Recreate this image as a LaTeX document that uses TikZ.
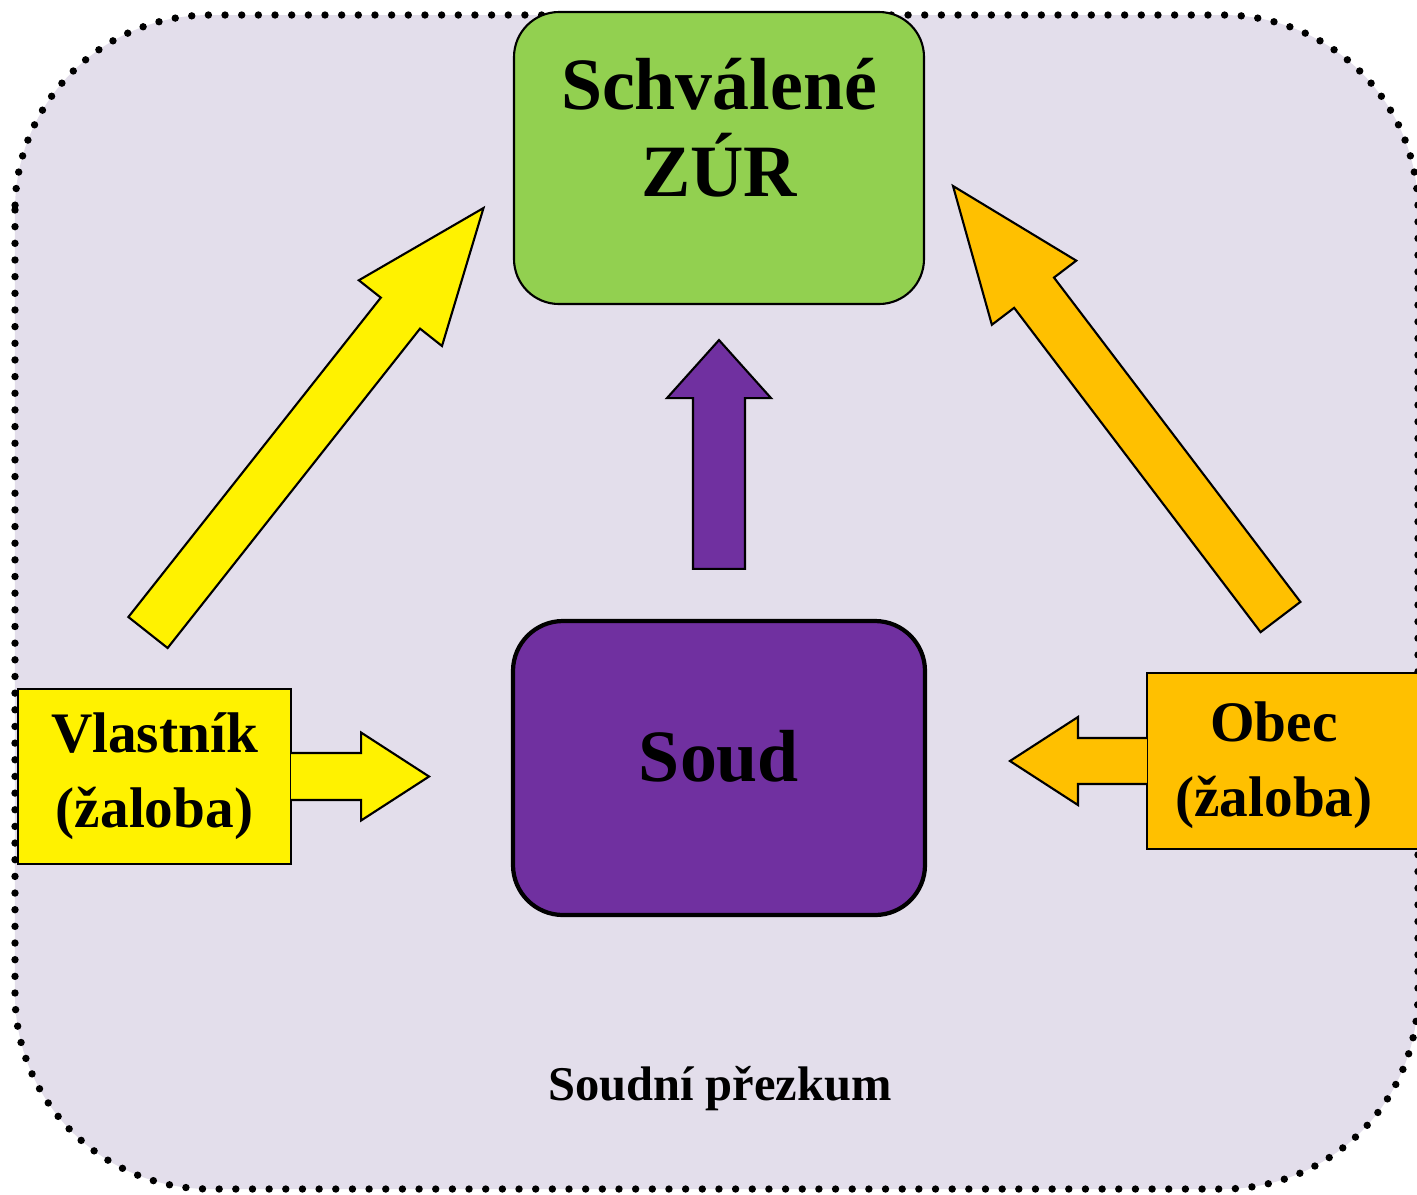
\documentclass[tikz,border=0pt]{standalone}
\usepackage{fontspec}
\setmainfont{Liberation Serif}
\usetikzlibrary{calc}

\definecolor{bglavender}{HTML}{E3DEEB}
\definecolor{zurgreen}{HTML}{92D050}
\definecolor{soudpurple}{HTML}{7030A0}
\definecolor{obecorange}{HTML}{FFC000}

% block arrow: [style]{tail}{tip}{shaft half}{head half}{head length}{end}
\newcommand{\fatarrow}[7][]{%
  \draw[#1] ($(#2)!#4!-90:(#3)$)
    -- ($(#3)!#6!(#2)!#4!90:(#2)$)
    -- ($(#3)!#6!(#2)!#5!90:(#2)$)
    -- (#3)
    -- ($(#3)!#6!(#2)!#5!-90:(#2)$)
    -- ($(#3)!#6!(#2)!#4!-90:(#2)$)
    -- ($(#2)!#4!90:(#3)$) #7;}

\begin{document}
\begin{tikzpicture}[x=1cm, y=-1cm]
\tikzset{box/.style = {draw, line width=0.6pt, inner sep=0pt},
         big font/.style = {font=\bfseries\fontsize{21pt}{24.7pt}\selectfont},
         small text/.style = {font=\bfseries\fontsize{16.3pt}{21.3pt}\selectfont, align=center},
         fat/.style = {draw, line width=0.6pt}}

\useasboundingbox (0,0) rectangle (14.17,11.94);
\path[fill=bglavender, draw=black, line width=2.1pt, line cap=round,
      dash pattern=on 0pt off 4.74pt, rounded corners=1.95cm]
  (0.15,0.15) rectangle (14.18,11.89);

% boxes
\node[box, fill=zurgreen, rounded corners=0.45cm, minimum width=4.10cm, minimum height=2.92cm] (zur) at (7.19,1.58) {};
\node[big font, align=center] (zurtext) at (7.19,1.275) {Schválené\\ZÚR};

\node[box, fill=soudpurple, line width=1.2pt, rounded corners=0.5cm, minimum width=4.12cm,
      minimum height=2.94cm, big font, text depth=0.24cm] (soud) at (7.19,7.68) {Soud};

\node[box, fill=yellow, minimum width=2.73cm, minimum height=1.75cm, small text] (vlastnik) at (1.545,7.765) {Vlastník\\(žaloba)};

\node[box, fill=obecorange, minimum width=2.93cm, minimum height=1.76cm] (obec) at (12.935,7.61) {};
\node[small text] (obectext) at (12.74,7.655) {Obec\\(žaloba)};

\node[font=\bfseries\fontsize{13.8pt}{16pt}\selectfont, anchor=base] (prezkum) at (7.20,11.00) {Soudní přezkum};

% arrows
\coordinate (vtail) at ($(vlastnik.east)+(-0.01,0)$);
\coordinate (vtip) at ($(vlastnik.east)+(1.37,0)$);
\fatarrow[fat, fill=yellow]{vtail}{vtip}{0.235cm}{0.44cm}{0.68cm}{}

\coordinate (otail) at ($(obec.west)+(0.01,0)$);
\coordinate (otip) at ($(obec.west)+(-1.36,0)$);
\fatarrow[fat, fill=obecorange]{otail}{otip}{0.23cm}{0.44cm}{0.68cm}{}

\coordinate (stail) at ($(soud.north)+(0,-0.50)$);
\coordinate (stip) at ($(zur.south)+(0,0.35)$);
\fatarrow[fat, fill=soudpurple]{stail}{stip}{0.26cm}{0.52cm}{0.58cm}{-- cycle}

\coordinate (ytail) at (1.48,6.325);
\coordinate (ytip) at (4.835,2.08);
\fatarrow[fat, fill=yellow]{ytail}{ytip}{0.25cm}{0.53cm}{1.34cm}{-- cycle}

\coordinate (otail2) at (12.805,6.17);
\coordinate (otip2) at (9.53,1.86);
\fatarrow[fat, fill=obecorange]{otail2}{otip2}{0.25cm}{0.53cm}{1.34cm}{-- cycle}

\end{tikzpicture}
\end{document}
